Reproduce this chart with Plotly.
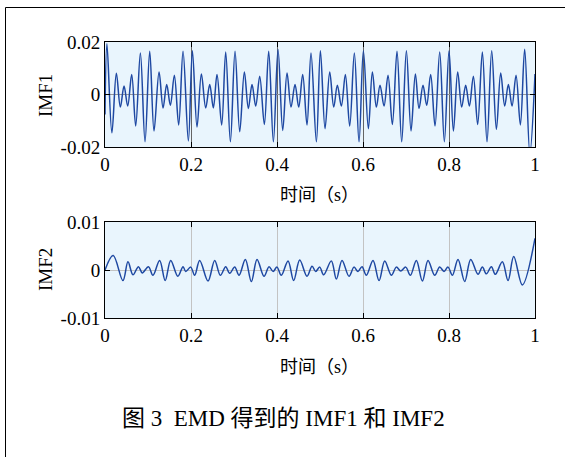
import plotly.graph_objects as go
from plotly.subplots import make_subplots

# ---- data (local extrema of each IMF) ----
imf1_t = [0.0, 0.0045, 0.0160, 0.0264, 0.0357, 0.0443, 0.0528, 0.0621, 0.0714, 0.0823,
          0.0931, 0.1040, 0.1140, 0.1257, 0.1350, 0.1435, 0.1520, 0.1613, 0.1714, 0.1815,
          0.1939, 0.2032, 0.2140, 0.2241, 0.2342, 0.2435, 0.2520, 0.2605, 0.2714, 0.2807,
          0.2916, 0.3024, 0.3133, 0.3241, 0.3334, 0.3419, 0.3505, 0.3598, 0.3706, 0.3807,
          0.3916, 0.4024, 0.4133, 0.4233, 0.4326, 0.4419, 0.4505, 0.4598, 0.4698, 0.4791,
          0.4916, 0.5009, 0.5117, 0.5226, 0.5319, 0.5404, 0.5497, 0.5590, 0.5691, 0.5799,
          0.5908, 0.6009, 0.6125, 0.6218, 0.6311, 0.6396, 0.6489, 0.6582, 0.6683, 0.6791,
          0.6900, 0.7009, 0.7117, 0.7218, 0.7303, 0.7396, 0.7481, 0.7574, 0.7675, 0.7784,
          0.7892, 0.8001, 0.8102, 0.8202, 0.8295, 0.8388, 0.8474, 0.8567, 0.8667, 0.8776,
          0.8884, 0.8993, 0.9102, 0.9202, 0.9295, 0.9381, 0.9466, 0.9559, 0.9660, 0.9760,
          0.9880, 1.0000]
imf1_v = [-0.0076, 0.0193, -0.0146, 0.0081, -0.0048, 0.0032, -0.0044, 0.0076, -0.0120, 0.0158,
          -0.0180, 0.0165, -0.0139, 0.0086, -0.0051, 0.0038, -0.0041, 0.0073, -0.0116, 0.0165,
          -0.0177, 0.0167, -0.0124, 0.0078, -0.0051, 0.0038, -0.0051, 0.0076, -0.0116, 0.0162,
          -0.0180, 0.0165, -0.0142, 0.0086, -0.0053, 0.0038, -0.0044, 0.0070, -0.0114, 0.0165,
          -0.0180, 0.0171, -0.0137, 0.0082, -0.0048, 0.0038, -0.0048, 0.0076, -0.0116, 0.0158,
          -0.0180, 0.0167, -0.0130, 0.0086, -0.0048, 0.0035, -0.0044, 0.0076, -0.0120, 0.0158,
          -0.0180, 0.0167, -0.0130, 0.0086, -0.0048, 0.0035, -0.0044, 0.0073, -0.0114, 0.0165,
          -0.0180, 0.0167, -0.0139, 0.0078, -0.0053, 0.0035, -0.0041, 0.0076, -0.0120, 0.0162,
          -0.0180, 0.0167, -0.0139, 0.0086, -0.0048, 0.0035, -0.0044, 0.0070, -0.0114, 0.0162,
          -0.0180, 0.0167, -0.0133, 0.0082, -0.0044, 0.0038, -0.0044, 0.0073, -0.0116, 0.0172,
          -0.0225, 0.0078]

imf2_t = [0.0, 0.019, 0.0417, 0.0534, 0.065, 0.0778, 0.0867, 0.101, 0.1115, 0.127,
          0.14, 0.1528, 0.1694, 0.1815, 0.1877, 0.1993, 0.2085, 0.2202, 0.2396, 0.2551,
          0.2683, 0.2807, 0.2900, 0.3016, 0.3117, 0.3264, 0.3404, 0.3536, 0.3698, 0.3815,
          0.3908, 0.4000, 0.4100, 0.4257, 0.4388, 0.4528, 0.4698, 0.4815, 0.4900, 0.4993,
          0.5086, 0.5264, 0.5381, 0.5512, 0.5675, 0.5791, 0.5884, 0.5977, 0.6078, 0.6233,
          0.6373, 0.6505, 0.6660, 0.6776, 0.6877, 0.6993, 0.7102, 0.7241, 0.7381, 0.7512,
          0.7667, 0.7784, 0.7884, 0.7977, 0.8078, 0.8210, 0.8365, 0.8505, 0.8675, 0.8776,
          0.8869, 0.8985, 0.9078, 0.9241, 0.9373, 0.9505, 0.9706, 1.0]
imf2_v = [0.0, 0.0030, -0.0022, 0.0017, -0.0010, 0.0007, -0.0006, 0.0007, -0.0011, 0.0020,
          -0.0022, 0.0020, -0.0013, 0.0007, -0.0003, 0.0006, -0.0011, 0.0020, -0.0023, 0.0020,
          -0.0011, 0.0007, -0.0007, 0.0006, -0.0011, 0.0022, -0.0024, 0.0022, -0.0013, 0.0007,
          -0.0003, 0.0006, -0.0011, 0.0019, -0.0022, 0.0021, -0.0013, 0.0008, -0.0003, 0.0006,
          -0.0010, 0.0019, -0.0019, 0.0020, -0.0013, 0.0006, -0.0003, 0.0007, -0.0011, 0.0020,
          -0.0022, 0.0019, -0.0011, 0.0006, -0.0002, 0.0006, -0.0011, 0.0020, -0.0023, 0.0020,
          -0.0011, 0.0006, -0.0003, 0.0006, -0.0011, 0.0022, -0.0024, 0.0022, -0.0009, 0.0006,
          -0.0008, 0.0007, -0.0009, 0.0017, -0.0022, 0.0028, -0.0031, 0.0066]

x_ticks = [0, 0.2, 0.4, 0.6, 0.8, 1]
x_ticklabels = ["0", "0.2", "0.4", "0.6", "0.8", "1"]
y1_ticks = [-0.02, 0, 0.02]
y1_ticklabels = ["-0.02", "0", "0.02"]
y2_ticks = [-0.01, 0, 0.01]
y2_ticklabels = ["-0.01", "0", "0.01"]
xlabel = "时间（s）"
ylabels = ["IMF1", "IMF2"]
caption = "图 3  EMD 得到的 IMF1 和 IMF2"

# ---- figure ----
W, H = 565, 457
ML, MR, MT, MB = 105, 30, 42, 139
PW, PH = W - ML - MR, H - MT - MB

def px(x):
    return (x - ML) / PW

def py(y):
    return (H - MB - y) / PH

FONT = "Liberation Serif, Times New Roman, Noto Sans CJK SC, serif"
LINE = "rgb(30,72,162)"
BG = "rgb(233,245,253)"

fig = make_subplots(rows=2, cols=1)
fig.add_trace(go.Scatter(x=imf1_t, y=imf1_v, mode="lines",
                         line=dict(color=LINE, width=1.5, shape="spline", smoothing=1),
                         showlegend=False, hoverinfo="skip"), row=1, col=1)
fig.add_trace(go.Scatter(x=imf2_t, y=imf2_v, mode="lines",
                         line=dict(color=LINE, width=1.5, shape="spline", smoothing=1),
                         showlegend=False, hoverinfo="skip"), row=2, col=1)

axis_common = dict(showline=True, linecolor="black", linewidth=1, mirror="ticks",
                   ticks="inside", ticklen=5, tickcolor="black", tickwidth=1,
                   zeroline=False, tickfont=dict(family=FONT, size=19, color="black"))

fig.update_xaxes(range=[0, 1], tickvals=x_ticks, ticktext=x_ticklabels,
                 showgrid=True, **axis_common)
fig.update_xaxes(gridcolor="rgb(100,100,100)", row=1, col=1)
fig.update_xaxes(gridcolor="rgb(195,195,195)", row=2, col=1)
fig.update_yaxes(range=[-0.02, 0.02], tickvals=y1_ticks, ticktext=y1_ticklabels,
                 showgrid=True, gridcolor="rgb(150,150,150)", row=1, col=1, **axis_common)
fig.update_yaxes(range=[-0.01, 0.01], tickvals=y2_ticks, ticktext=y2_ticklabels,
                 showgrid=True, gridcolor="rgb(195,195,195)", row=2, col=1, **axis_common)

fig.update_layout(
    xaxis=dict(domain=[0, 1], anchor="y"),
    yaxis=dict(domain=[1 - 105 / PH, 1], anchor="x"),
    xaxis2=dict(domain=[0, 1], anchor="y2"),
    yaxis2=dict(domain=[0, 96 / PH], anchor="x2"),
)

annos = [
    dict(text=ylabels[0], x=px(45), y=py(96), textangle=-90, font=dict(size=19)),
    dict(text=ylabels[1], x=px(45), y=py(270), textangle=-90, font=dict(size=19)),
    dict(text=xlabel, x=px(319), y=py(195), font=dict(size=18)),
    dict(text=xlabel, x=px(319), y=py(367), font=dict(size=18)),
    dict(text=caption, x=px(283), y=py(418), font=dict(size=23)),
]
for a in annos:
    a.update(xref="paper", yref="paper", showarrow=False, xanchor="center", yanchor="middle")
    a["font"].update(family=FONT, color="black")
fig.update_layout(annotations=annos)

# outer frame: only the left and top edges fall inside the picture
fig.add_shape(type="line", xref="paper", yref="paper",
              x0=px(5.5), x1=px(5.5), y0=py(460), y1=py(7.5),
              line=dict(color="black", width=1))
fig.add_shape(type="line", xref="paper", yref="paper",
              x0=px(5.5), x1=px(566), y0=py(7.5), y1=py(7.5),
              line=dict(color="black", width=1))

fig.update_layout(width=W, height=H, margin=dict(l=ML, r=MR, t=MT, b=MB),
                  paper_bgcolor="white", plot_bgcolor=BG, hovermode=False,
                  font=dict(family=FONT, color="black"))

fig.write_html("out.html", config={"displayModeBar": False, "staticPlot": True},
               post_script=("document.body.style.margin='0';"
                            "document.body.style.overflow='hidden';"
                            "document.documentElement.style.overflow='hidden';"))
